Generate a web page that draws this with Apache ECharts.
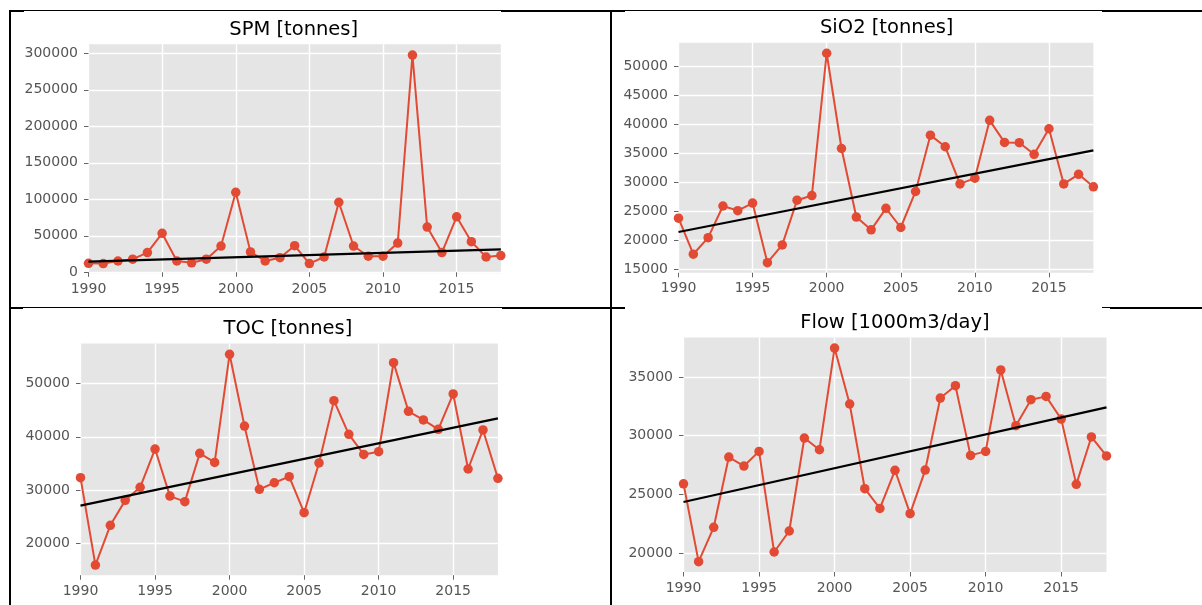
<!DOCTYPE html>
<html>
<head>
<meta charset="utf-8">
<script src="https://cdn.jsdelivr.net/npm/echarts@6/dist/echarts.min.js"></script>
<style>
html,body{margin:0;padding:0;background:#ffffff;}
#c{width:1202px;height:605px;}
</style>
</head>
<body>
<div id="c"></div>
<script>
// ---------------- data ----------------
const years = [1990,1991,1992,1993,1994,1995,1996,1997,1998,1999,2000,2001,2002,2003,2004,2005,2006,2007,2008,2009,2010,2011,2012,2013,2014,2015,2016,2017,2018];
const yearTicks = [1990,1995,2000,2005,2010,2015];
const trendYears = [1990, 2018];

const spmValues = [12300,12000,15500,18000,27000,53400,15500,13000,18000,36000,109600,28000,15500,20000,36500,12000,21000,96000,36000,22000,22000,40000,297700,62000,27000,76000,42000,21000,23000];
const spmTrend = [14600, 31500];
const spmTicks = [0,50000,100000,150000,200000,250000,300000];

const sio2Values = [23800,17600,20450,25900,25100,26400,16150,19200,26900,27700,52200,35800,24000,21800,25500,22200,28400,38100,36100,29700,30700,40650,36850,36800,34800,39200,29700,31350,29200];
const sio2Trend = [21420, 35480];
const sio2Ticks = [15000,20000,25000,30000,35000,40000,45000,50000];

const tocValues = [32350,16000,23430,28100,30540,37700,28900,27860,36900,35200,55430,42000,30170,31400,32540,25800,35100,46760,40460,36700,37200,53870,44770,43150,41400,48010,33970,41270,32230];
const tocTrend = [27110, 43450];
const tocTicks = [20000,30000,40000,50000];

const flowValues = [25900,19260,22190,28180,27410,28660,20085,21875,29800,28800,37470,32700,25480,23800,27050,23350,27070,33210,34260,28320,28660,35600,30850,33070,33350,31420,25850,29890,28270];
const flowTrend = [24350, 32415];
const flowTicks = [20000,25000,30000,35000];

const titles = ['SPM [tonnes]', 'SiO2 [tonnes]', 'TOC [tonnes]', 'Flow [1000m3/day]'];

// ---------------- layout / style ----------------
const FONT = 'DejaVu Sans';
const RED = '#E24A33';
const layout = [
  {values: spmValues,  trend: spmTrend,  ticks: spmTicks,  min: -1350, max: 312400, grid: {left: 88.5,  top: 44.3,  width: 412.3, height: 229},   tx: 293.7, ty: 29.5},
  {values: sio2Values, trend: sio2Trend, ticks: sio2Ticks, min: 14400, max: 54000,  grid: {left: 678.5, top: 42.8,  width: 414.9, height: 230},   tx: 886.7, ty: 28},
  {values: tocValues,  trend: tocTrend,  ticks: tocTicks,  min: 14100, max: 57450,  grid: {left: 80.5,  top: 343.5, width: 417.4, height: 231.7}, tx: 287.9, ty: 329},
  {values: flowValues, trend: flowTrend, ticks: flowTicks, min: 18380, max: 38360,  grid: {left: 683.5, top: 337.6, width: 423,   height: 234.4}, tx: 895,   ty: 322.5}
];

const grids = [], xAxes = [], yAxes = [], series = [], graphics = [];
layout.forEach((p, i) => {
  grids.push(Object.assign({show: true, backgroundColor: '#E5E5E5', borderWidth: 0, containLabel: false, outerBoundsMode: 'none'}, p.grid));
  const tickStyle = {show: true, length: 4.5, inside: false, lineStyle: {color: '#666666', width: 1}};
  xAxes.push({
    type: 'value', gridIndex: i, min: 1990, max: 2018,
    axisLine: {show: false},
    axisTick: Object.assign({customValues: yearTicks}, tickStyle),
    axisLabel: {customValues: yearTicks, margin: 9, color: '#555555', fontFamily: FONT, fontSize: 14, formatter: v => String(v)},
    splitLine: {show: true, lineStyle: {color: '#FFFFFF', width: 1.4}}
  });
  yAxes.push({
    type: 'value', gridIndex: i, min: p.min, max: p.max,
    axisLine: {show: false},
    axisTick: Object.assign({customValues: p.ticks}, tickStyle),
    axisLabel: {customValues: p.ticks, margin: 10.5, color: '#555555', fontFamily: FONT, fontSize: 14, formatter: v => String(v)},
    splitLine: {show: true, lineStyle: {color: '#FFFFFF', width: 1.4}}
  });
  series.push({
    type: 'line', xAxisIndex: i, yAxisIndex: i,
    data: years.map((y, k) => [y, p.values[k]]),
    symbol: 'circle', symbolSize: 9.5, showSymbol: true,
    lineStyle: {color: RED, width: 2},
    itemStyle: {color: RED},
    animation: false, silent: true, z: 2
  });
  series.push({
    type: 'line', xAxisIndex: i, yAxisIndex: i,
    data: trendYears.map((y, k) => [y, p.trend[k]]),
    symbol: 'none',
    lineStyle: {color: '#000000', width: 2.2},
    animation: false, silent: true, z: 3
  });
  graphics.push({
    type: 'text', x: p.tx, y: p.ty, z: 10,
    style: {text: titles[i], align: 'center', verticalAlign: 'middle', fontFamily: FONT, fontSize: 19.5, fill: '#000000'}
  });
});

// table border segments (document frame around the four chart images)
const borderSegs = [
  // [x1, y1, x2, y2, width]
  [9, 11, 24, 11, 2], [24, 10.5, 501, 10.5, 1], [501, 11, 625, 11, 2], [625, 10.5, 1102, 10.5, 1], [1102, 11, 1202, 11, 2],
  [10, 10, 10, 605, 2],
  [611, 10, 611, 605, 2],
  [9, 308, 23, 308, 2], [23, 307.5, 502, 307.5, 1], [502, 308, 625, 308, 2], [1102, 307.5, 1110, 307.5, 1], [1110, 308, 1202, 308, 2]
];
borderSegs.forEach(s => {
  graphics.push({type: 'line', z: 20, silent: true, shape: {x1: s[0], y1: s[1], x2: s[2], y2: s[3]}, style: {stroke: '#000000', lineWidth: s[4]}});
});

const chart = echarts.init(document.getElementById('c'), null, {renderer: 'canvas'});
chart.setOption({
  animation: false,
  backgroundColor: '#ffffff',
  grid: grids,
  xAxis: xAxes,
  yAxis: yAxes,
  series: series,
  graphic: graphics
});
</script>
</body>
</html>
